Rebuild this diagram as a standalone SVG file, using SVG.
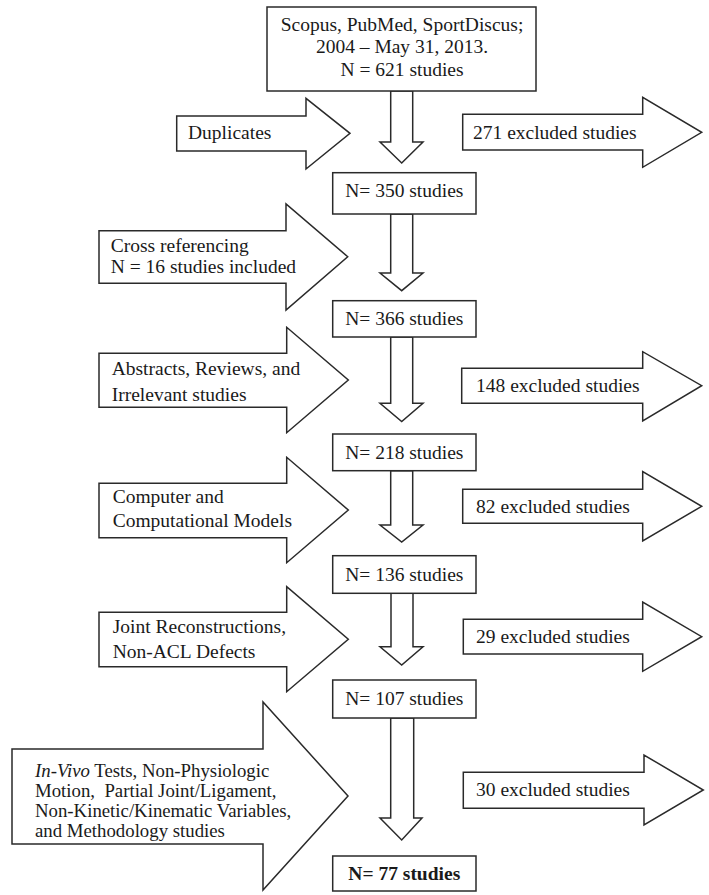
<svg xmlns="http://www.w3.org/2000/svg" width="709" height="895" viewBox="0 0 709 895">
<style>
.s{fill:#fff;stroke:#2a2a2a;stroke-width:1.5;stroke-linejoin:miter}
.t{font-family:"Liberation Serif","Times New Roman",serif;font-size:19.5px;fill:#1a1a1a}
.c{text-anchor:middle}
.b{font-weight:bold}
.sm{font-size:18.8px}
</style>
<rect width="709" height="895" fill="#fff"/>
<g id="connectors">
<polygon class="s" points="390.7,91 412.7,91 412.7,142 423,142 401.7,163 380,142 390.7,142"/>
<polygon class="s" points="390.7,214 412.7,214 412.7,273 423,273 401.7,290.7 380,273 390.7,273"/>
<polygon class="s" points="390.7,337 412.7,337 412.7,403.3 423,403.3 401.7,421.5 380,403.3 390.7,403.3"/>
<polygon class="s" points="390.7,470.7 412.7,470.7 412.7,525 423,525 401.7,542 380,525 390.7,525"/>
<polygon class="s" points="391,593.3 413,593.3 413,646.7 423,646.7 401.7,665 380,646.7 391,646.7"/>
<polygon class="s" points="390.7,718 413.7,718 413.7,818 422,818 401.7,840 380,818 390.7,818"/>
</g>
<g id="n0"><rect class="s" x="267" y="7" width="269" height="84"/>
<text class="t c" x="402" y="30.5">Scopus, PubMed, SportDiscus;</text>
<text class="t c" x="402" y="53.3">2004 – May 31, 2013.</text>
<text class="t c" x="402" y="75.5">N = 621 studies</text></g>
<g id="dup"><polygon class="s" points="176.7,116 306,116 306,98.3 350,133.3 306,169 306,151 176.7,151"/>
<text class="t" x="188" y="139">Duplicates</text></g>
<g id="ex271"><polygon class="s" points="462.7,114.3 642.7,114.3 642.7,97.3 701.7,132.3 642.7,167.3 642.7,150 462.7,150"/>
<text class="t" x="473" y="139">271 excluded studies</text></g>
<g id="n350"><rect class="s" x="332.7" y="172.7" width="143.3" height="41.3"/>
<text class="t c" x="404.3" y="197.3">N= 350 studies</text></g>
<g id="cross"><polygon class="s" points="99,230.7 286,230.7 286,204 347.7,256.7 286,310 286,283.3 99,283.3"/>
<text class="t" x="110.7" y="251.7">Cross referencing</text>
<text class="t" x="110.7" y="272.7">N = 16 studies included</text></g>
<g id="n366"><rect class="s" x="332.7" y="300.7" width="143.3" height="36.3"/>
<text class="t c" x="404.3" y="325">N= 366 studies</text></g>
<g id="abs"><polygon class="s" points="99,353.3 286.7,353.3 286.7,327.3 348.3,380 286.7,432.7 286.7,407.3 99,407.3"/>
<text class="t" x="111.7" y="375">Abstracts, Reviews, and</text>
<text class="t" x="111.7" y="400.5">Irrelevant studies</text></g>
<g id="ex148"><polygon class="s" points="461.7,368.3 642.7,368.3 642.7,351.7 701.7,385.7 642.7,421 642.7,403.3 461.7,403.3"/>
<text class="t" x="476" y="392">148 excluded studies</text></g>
<g id="n218"><rect class="s" x="332.7" y="434" width="143.3" height="36.7"/>
<text class="t c" x="404.3" y="458.5">N= 218 studies</text></g>
<g id="comp"><polygon class="s" points="99,483.3 286.7,483.3 286.7,457.3 348.3,510 286.7,562.7 286.7,537.7 99,537.7"/>
<text class="t" x="112.7" y="503.3">Computer and</text>
<text class="t" x="112.7" y="527.3">Computational Models</text></g>
<g id="ex82"><polygon class="s" points="462.7,489.3 642.7,489.3 642.7,471.5 701.7,506.3 642.7,541 642.7,523.3 462.7,523.3"/>
<text class="t" x="476" y="512.5">82 excluded studies</text></g>
<g id="n136"><rect class="s" x="332.7" y="555.7" width="143.3" height="37.6"/>
<text class="t c" x="404.3" y="580.5">N= 136 studies</text></g>
<g id="joint"><polygon class="s" points="99,612.3 286.7,612.3 286.7,586.7 348.3,639.3 286.7,691.7 286.7,666.7 99,666.7"/>
<text class="t" x="112.7" y="633.3">Joint Reconstructions,</text>
<text class="t" x="112.7" y="657.7">Non-ACL Defects</text></g>
<g id="ex29"><polygon class="s" points="463.3,619.3 642.7,619.3 642.7,602 701.7,636.7 642.7,671.3 642.7,654 463.3,654"/>
<text class="t" x="476" y="643">29 excluded studies</text></g>
<g id="n107"><rect class="s" x="332.7" y="680" width="143.3" height="38"/>
<text class="t c" x="404.3" y="705">N= 107 studies</text></g>
<g id="invivo"><polygon class="s" points="12,749 263,749 263,702 348,796 263,890 263,844 12,844"/>
<text class="t sm" x="35" y="777"><tspan font-style="italic">In-Vivo</tspan> Tests, Non-Physiologic</text>
<text class="t sm" x="35" y="797" xml:space="preserve">Motion,  Partial Joint/Ligament,</text>
<text class="t sm" x="35" y="817">Non-Kinetic/Kinematic Variables,</text>
<text class="t sm" x="35" y="837">and Methodology studies</text></g>
<g id="ex30"><polygon class="s" points="463.3,772.3 644,772.3 644,755 703.3,790 644,825 644,808.3 463.3,808.3"/>
<text class="t" x="476" y="796">30 excluded studies</text></g>
<g id="n77"><rect class="s" x="332.7" y="856" width="143.3" height="35"/>
<text class="t c b" x="404.3" y="880">N= 77 studies</text></g>
</svg>
